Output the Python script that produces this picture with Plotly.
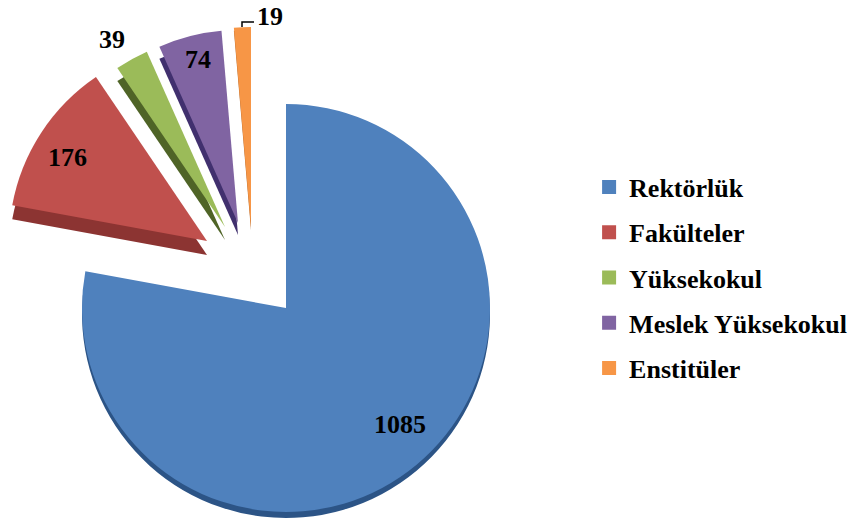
import plotly.graph_objects as go

labels = ['Rektörlük', 'Fakülteler', 'Yüksekokul', 'Meslek Yüksekokul', 'Enstitüler']
values = [1085, 176, 39, 74, 19]
colors = ['#4f81bd', '#c0504d', '#9bbb59', '#8064a2', '#f79646']
side_colors = ['#2c5486', '#8c3432', '#4f6427', '#41306e', '#b5682a']

W, H = 855, 522

# each slice gets its own pie so it can sit where the exploded slice sits
slice_center = [(286, 308), (207, 241), (225, 227), (238, 223), (251, 227)]
slice_radius = [204, 198, 192, 193, 200]
side_depth = [6, 14, 13, 12, 3]

label_pos = [(400, 424), (67, 157), (112, 40), (198, 60), (270, 16)]


def slice_pie(i, color, dy=0):
    cx, cy = slice_center[i]
    r = slice_radius[i]
    cy = cy + dy
    slice_colors = ['rgba(0,0,0,0)'] * len(values)
    slice_colors[i] = color
    return go.Pie(
        labels=labels,
        values=values,
        sort=False,
        direction='clockwise',
        rotation=0,
        marker=dict(colors=slice_colors, line=dict(width=0)),
        textinfo='none',
        hoverinfo='label+value',
        showlegend=False,
        domain=dict(x=[(cx - r) / W, (cx + r) / W],
                    y=[1 - (cy + r) / H, 1 - (cy - r) / H]),
    )


fig = go.Figure()

#side walls first, then the top faces
for i in range(len(values)):
    fig.add_trace(slice_pie(i, side_colors[i], side_depth[i]))
for i in range(len(values)):
    fig.add_trace(slice_pie(i, colors[i]))

#legend entries
for i in range(len(values)):
    fig.add_trace(go.Scatter(
        x=[None],
        y=[None],
        mode='markers',
        name=labels[i],
        legendgroup=labels[i],
        marker=dict(symbol='square', size=14, color=colors[i]),
    ))

for i in range(len(values)):
    fig.add_annotation(
        x=label_pos[i][0] / W,
        y=1 - label_pos[i][1] / H,
        xref='paper',
        yref='paper',
        xanchor='center',
        yanchor='middle',
        text=str(values[i]),
        showarrow=False,
        font=dict(family='Liberation Serif', size=26, color='black', weight='bold'),
    )

#leader line of the smallest slice
fig.add_shape(
    type='path',
    path='M 242 27 L 242 22 L 254 22',
    xref='x',
    yref='y',
    line=dict(color='black', width=1.5),
)

fig.update_layout(
    width=W,
    height=H,
    margin=dict(l=0, r=0, t=0, b=0),
    paper_bgcolor='white',
    plot_bgcolor='white',
    xaxis=dict(range=[0, W], visible=False),
    yaxis=dict(range=[H, 0], visible=False),
    legend=dict(
        x=0.689,
        y=1 - 278 / H,
        xanchor='left',
        yanchor='middle',
        tracegroupgap=8.5,
        font=dict(family='Liberation Serif', size=26, color='black', weight='bold'),
    ),
)

#drop the default body margin so the figure fills the window
fig.write_html("out.html", post_script="document.body.style.margin='0';",
               config=dict(displayModeBar=False))
